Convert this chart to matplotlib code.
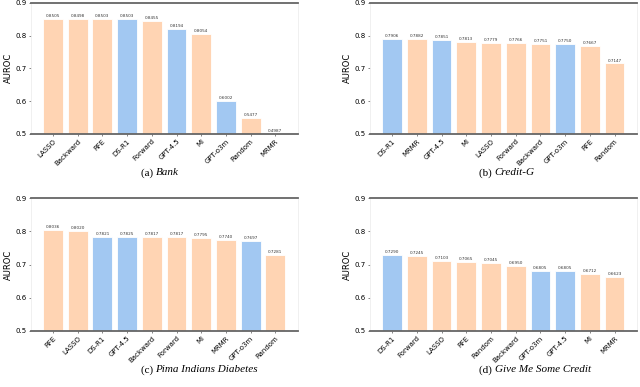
import matplotlib
matplotlib.use("Agg")
import matplotlib.pyplot as plt

PEACH = "#FFD4B3"
BLUE = "#A2C8F2"
LLM = {"DS-R1", "GPT-4.5", "GPT-o3m"}

bank_methods = ["LASSO", "Backward", "RFE", "DS-R1", "Forward", "GPT-4.5", "MI", "GPT-o3m", "Random", "MRMR"]
bank_auroc = [0.8505, 0.8498, 0.8503, 0.8503, 0.8455, 0.8194, 0.8054, 0.6002, 0.5477, 0.4987]

credit_methods = ["DS-R1", "MRMR", "GPT-4.5", "MI", "LASSO", "Forward", "Backward", "GPT-o3m", "RFE", "Random"]
credit_auroc = [0.7906, 0.7882, 0.7851, 0.7813, 0.7779, 0.7766, 0.7751, 0.7750, 0.7667, 0.7147]

pima_methods = ["RFE", "LASSO", "DS-R1", "GPT-4.5", "Backward", "Forward", "MI", "MRMR", "GPT-o3m", "Random"]
pima_auroc = [0.8036, 0.8020, 0.7821, 0.7825, 0.7817, 0.7817, 0.7795, 0.7740, 0.7697, 0.7281]

gmsc_methods = ["DS-R1", "Forward", "LASSO", "RFE", "Random", "Backward", "GPT-o3m", "GPT-4.5", "MI", "MRMR"]
gmsc_auroc = [0.7290, 0.7245, 0.7103, 0.7065, 0.7045, 0.6950, 0.6805, 0.6805, 0.6712, 0.6623]

panels = [
    (bank_methods, bank_auroc, "(a) ", "Bank", [0.048, 0.654, 0.417, 0.339], 0.553, 0.243),
    (credit_methods, credit_auroc, "(b) ", "Credit-G", [0.578, 0.654, 0.417, 0.339], 0.553, 0.773),
    (pima_methods, pima_auroc, "(c) ", "Pima Indians Diabetes", [0.048, 0.145, 0.417, 0.343], 0.044, 0.243),
    (gmsc_methods, gmsc_auroc, "(d) ", "Give Me Some Credit", [0.578, 0.145, 0.417, 0.343], 0.044, 0.773),
]

fig = plt.figure(figsize=(6.4, 3.87), dpi=100)

for methods, vals, tag, name, rect, cap_y, cap_x in panels:
    ax = fig.add_axes(rect)
    x = list(range(len(methods)))
    colors = [BLUE if m in LLM else PEACH for m in methods]
    ax.bar(x, vals, width=0.8, color=colors, edgecolor="white", linewidth=0.6)
    for xi, v in zip(x, vals):
        ax.text(xi, v + 0.003, f"{v:.4f}", ha="center", va="bottom", fontsize=3.0, color="#333333")
    ax.set_xlim(-0.9, 9.9)
    ax.set_ylim(0.5, 0.9)
    ax.set_yticks([0.5, 0.6, 0.7, 0.8, 0.9])
    ax.set_yticklabels(["0.5", "0.6", "0.7", "0.8", "0.9"])
    ax.set_xticks(x)
    ax.set_xticklabels(methods, rotation=45, ha="right", rotation_mode="anchor")
    ax.tick_params(axis="both", labelsize=5, length=1.5, width=0.5, color="#555555", pad=1.5)
    ax.set_ylabel("AUROC", fontsize=6, labelpad=2)
    for s in ("left", "right"):
        ax.spines[s].set_color("#eeeeee")
        ax.spines[s].set_linewidth(0.6)
    for s in ("top", "bottom"):
        ax.spines[s].set_color("#666666")
        ax.spines[s].set_linewidth(1.3)
    fig.text(cap_x, cap_y, tag, ha="right", va="center", fontsize=8,
             family="Liberation Serif")
    fig.text(cap_x, cap_y, name, ha="left", va="center", fontsize=8,
             family="Liberation Serif", style="italic")

fig.savefig("out.png", dpi=100)
